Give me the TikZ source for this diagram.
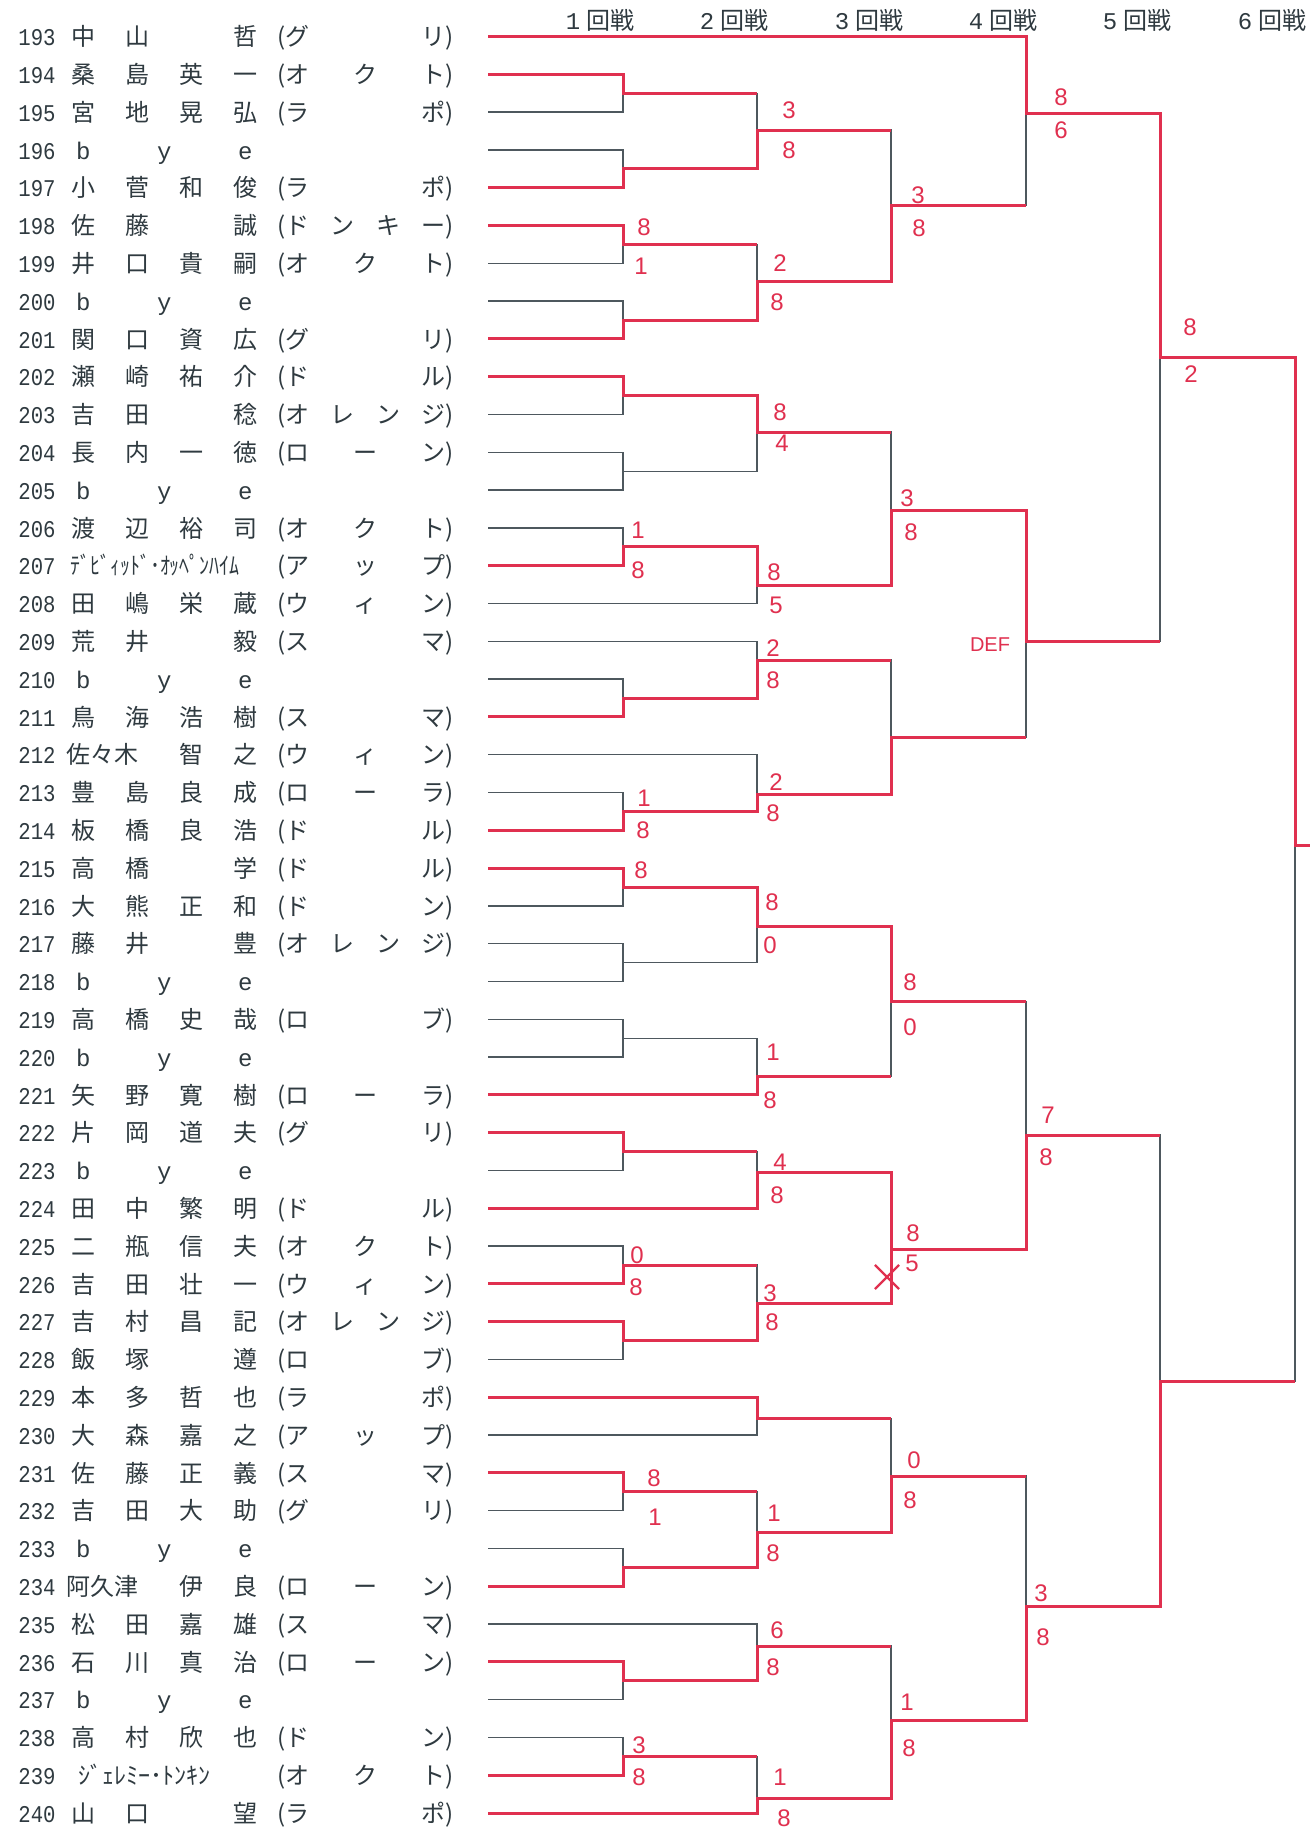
\documentclass[tikz,border=0pt]{standalone}
\usepackage{fontspec}
\usepackage{graphicx}
\usepackage{xcolor}
\usetikzlibrary{shapes.misc}
\newfontfamily\jpfont{Noto Sans CJK JP}
\newfontfamily\numfont{Liberation Mono}
\newfontfamily\scfont{Liberation Sans}
\definecolor{TxtD}{HTML}{2F3A40}
\definecolor{LnG} {HTML}{4E585E}
\definecolor{WinR}{HTML}{E0304F}
% one row of the draw: number, four name slots, club in brackets
\newcommand{\nbox}[1]{\makebox[19pt][l]{\scalebox{0.86}[1]{\numfont #1}}}
\newcommand{\team}[1]{\makebox[6.5pt][r]{(}\hbox to 80pt{#1}\makebox[6pt][l]{)}}
\newcommand{\plyr}[6]{\nbox{#1}\makebox[27pt]{#2}\makebox[27pt]{#3}\makebox[27pt]{#4}\makebox[27pt]{#5}\team{#6}}
\newcommand{\plyrw}[5]{\nbox{#1}\makebox[54pt][l]{\hspace{5pt}#2}\makebox[27pt]{#3}\makebox[27pt]{#4}\team{#5}}
\newcommand{\plyrk}[3]{\nbox{#1}\makebox[108pt][l]{#2}\team{#3}}
\newcommand{\plyrbye}[1]{\nbox{#1}\makebox[27pt]{\numfont b}\makebox[54pt]{\numfont y}\makebox[27pt]{\numfont e}}
\tikzset{
  ENT/.style={
    anchor=west, inner sep=0pt, text=TxtD,
    font=\jpfont\fontsize{12}{14}\selectfont,
    text height=11pt, text depth=1.8pt
  },
  HDR/.style={
    inner sep=0pt, text=TxtD,
    font=\jpfont\fontsize{12}{14}\selectfont,
    text height=11pt, text depth=1.8pt
  },
  LOS/.style={draw=LnG, line width=0.7pt},
  WIN/.style={draw=WinR, line width=1.5pt},
  SCR/.style={
    inner sep=0pt, text=WinR,
    font=\scfont\fontsize{12}{12}\selectfont
  },
  XMK/.style={
    cross out, draw=WinR, line width=1.1pt,
    minimum size=11pt, inner sep=0pt
  },
}

\begin{document}
\begin{tikzpicture}[x=0.5pt,y=-0.5pt]
\path[use as bounding box, fill=white] (0,0) rectangle (1310,1832);

%================ ROUND HEADERS =================
\node[HDR] (h1) at ( 600,20) {{\numfont 1}\hspace{3pt}回戦};
\node[HDR] (h2) at ( 734,20) {{\numfont 2}\hspace{3pt}回戦};
\node[HDR] (h3) at ( 869,20) {{\numfont 3}\hspace{3pt}回戦};
\node[HDR] (h4) at (1003,20) {{\numfont 4}\hspace{3pt}回戦};
\node[HDR] (h5) at (1137,20) {{\numfont 5}\hspace{3pt}回戦};
\node[HDR] (h6) at (1272,20) {{\numfont 6}\hspace{3pt}回戦};

%================ LINE STARTS =================
\foreach \n in {193,...,240}
  \coordinate (s\n) at (488,{36.5+37.8*(\n-193)});
\coordinate (fout) at (1310,845);

%================ PLAYERS =================
\node[ENT] (p193) at (18,0 |- s193) {\plyr{193}{中}{山}{}{哲}{グ\hfill リ}};
\node[ENT] (p194) at (18,0 |- s194) {\plyr{194}{桑}{島}{英}{一}{オ\hfill ク\hfill ト}};
\node[ENT] (p195) at (18,0 |- s195) {\plyr{195}{宮}{地}{晃}{弘}{ラ\hfill ポ}};
\node[ENT] (p196) at (18,0 |- s196) {\plyrbye{196}};
\node[ENT] (p197) at (18,0 |- s197) {\plyr{197}{小}{菅}{和}{俊}{ラ\hfill ポ}};
\node[ENT] (p198) at (18,0 |- s198) {\plyr{198}{佐}{藤}{}{誠}{ド\hfill ン\hfill キ\hfill ー}};
\node[ENT] (p199) at (18,0 |- s199) {\plyr{199}{井}{口}{貴}{嗣}{オ\hfill ク\hfill ト}};
\node[ENT] (p200) at (18,0 |- s200) {\plyrbye{200}};
\node[ENT] (p201) at (18,0 |- s201) {\plyr{201}{関}{口}{資}{広}{グ\hfill リ}};
\node[ENT] (p202) at (18,0 |- s202) {\plyr{202}{瀬}{崎}{祐}{介}{ド\hfill ル}};
\node[ENT] (p203) at (18,0 |- s203) {\plyr{203}{吉}{田}{}{稔}{オ\hfill レ\hfill ン\hfill ジ}};
\node[ENT] (p204) at (18,0 |- s204) {\plyr{204}{長}{内}{一}{徳}{ロ\hfill ー\hfill ン}};
\node[ENT] (p205) at (18,0 |- s205) {\plyrbye{205}};
\node[ENT] (p206) at (18,0 |- s206) {\plyr{206}{渡}{辺}{裕}{司}{オ\hfill ク\hfill ト}};
\node[ENT] (p207) at (18,0 |- s207) {\plyrk{207}{\hspace{7pt}\scalebox{0.83}[1]{ﾃﾞﾋﾞｨｯﾄﾞ･ｵｯﾍﾟﾝﾊｲﾑ}}{ア\hfill ッ\hfill プ}};
\node[ENT] (p208) at (18,0 |- s208) {\plyr{208}{田}{嶋}{栄}{蔵}{ウ\hfill ィ\hfill ン}};
\node[ENT] (p209) at (18,0 |- s209) {\plyr{209}{荒}{井}{}{毅}{ス\hfill マ}};
\node[ENT] (p210) at (18,0 |- s210) {\plyrbye{210}};
\node[ENT] (p211) at (18,0 |- s211) {\plyr{211}{鳥}{海}{浩}{樹}{ス\hfill マ}};
\node[ENT] (p212) at (18,0 |- s212) {\plyrw{212}{佐々木}{智}{之}{ウ\hfill ィ\hfill ン}};
\node[ENT] (p213) at (18,0 |- s213) {\plyr{213}{豊}{島}{良}{成}{ロ\hfill ー\hfill ラ}};
\node[ENT] (p214) at (18,0 |- s214) {\plyr{214}{板}{橋}{良}{浩}{ド\hfill ル}};
\node[ENT] (p215) at (18,0 |- s215) {\plyr{215}{高}{橋}{}{学}{ド\hfill ル}};
\node[ENT] (p216) at (18,0 |- s216) {\plyr{216}{大}{熊}{正}{和}{ド\hfill ン}};
\node[ENT] (p217) at (18,0 |- s217) {\plyr{217}{藤}{井}{}{豊}{オ\hfill レ\hfill ン\hfill ジ}};
\node[ENT] (p218) at (18,0 |- s218) {\plyrbye{218}};
\node[ENT] (p219) at (18,0 |- s219) {\plyr{219}{高}{橋}{史}{哉}{ロ\hfill ブ}};
\node[ENT] (p220) at (18,0 |- s220) {\plyrbye{220}};
\node[ENT] (p221) at (18,0 |- s221) {\plyr{221}{矢}{野}{寛}{樹}{ロ\hfill ー\hfill ラ}};
\node[ENT] (p222) at (18,0 |- s222) {\plyr{222}{片}{岡}{道}{夫}{グ\hfill リ}};
\node[ENT] (p223) at (18,0 |- s223) {\plyrbye{223}};
\node[ENT] (p224) at (18,0 |- s224) {\plyr{224}{田}{中}{繁}{明}{ド\hfill ル}};
\node[ENT] (p225) at (18,0 |- s225) {\plyr{225}{二}{瓶}{信}{夫}{オ\hfill ク\hfill ト}};
\node[ENT] (p226) at (18,0 |- s226) {\plyr{226}{吉}{田}{壮}{一}{ウ\hfill ィ\hfill ン}};
\node[ENT] (p227) at (18,0 |- s227) {\plyr{227}{吉}{村}{昌}{記}{オ\hfill レ\hfill ン\hfill ジ}};
\node[ENT] (p228) at (18,0 |- s228) {\plyr{228}{飯}{塚}{}{遵}{ロ\hfill ブ}};
\node[ENT] (p229) at (18,0 |- s229) {\plyr{229}{本}{多}{哲}{也}{ラ\hfill ポ}};
\node[ENT] (p230) at (18,0 |- s230) {\plyr{230}{大}{森}{嘉}{之}{ア\hfill ッ\hfill プ}};
\node[ENT] (p231) at (18,0 |- s231) {\plyr{231}{佐}{藤}{正}{義}{ス\hfill マ}};
\node[ENT] (p232) at (18,0 |- s232) {\plyr{232}{吉}{田}{大}{助}{グ\hfill リ}};
\node[ENT] (p233) at (18,0 |- s233) {\plyrbye{233}};
\node[ENT] (p234) at (18,0 |- s234) {\plyrw{234}{阿久津}{伊}{良}{ロ\hfill ー\hfill ン}};
\node[ENT] (p235) at (18,0 |- s235) {\plyr{235}{松}{田}{嘉}{雄}{ス\hfill マ}};
\node[ENT] (p236) at (18,0 |- s236) {\plyr{236}{石}{川}{真}{治}{ロ\hfill ー\hfill ン}};
\node[ENT] (p237) at (18,0 |- s237) {\plyrbye{237}};
\node[ENT] (p238) at (18,0 |- s238) {\plyr{238}{高}{村}{欣}{也}{ド\hfill ン}};
\node[ENT] (p239) at (18,0 |- s239) {\plyrk{239}{\hspace{11pt}ｼﾞｪﾚﾐｰ･ﾄﾝｷﾝ}{オ\hfill ク\hfill ト}};
\node[ENT] (p240) at (18,0 |- s240) {\plyr{240}{山}{口}{}{望}{ラ\hfill ポ}};

%================ MATCH POINTS =================
\coordinate (A1)  at (623,  93.2);
\coordinate (A2)  at (623, 168.8);
\coordinate (A3)  at (623, 244.4);
\coordinate (A4)  at (623, 320.0);
\coordinate (A5)  at (623, 395.6);
\coordinate (A6)  at (623, 471.2);
\coordinate (A7)  at (623, 546.8);
\coordinate (A8)  at (623, 698.0);
\coordinate (A9)  at (623, 811.4);
\coordinate (A10) at (623, 887.0);
\coordinate (A11) at (623, 962.6);
\coordinate (A12) at (623,1038.2);
\coordinate (A13) at (623,1151.6);
\coordinate (A14) at (623,1265.0);
\coordinate (A15) at (623,1340.6);
\coordinate (A16) at (623,1491.8);
\coordinate (A17) at (623,1567.4);
\coordinate (A18) at (623,1680.8);
\coordinate (A19) at (623,1756.4);

\coordinate (B1)  at (757, 130.0);
\coordinate (B2)  at (757, 281.0);
\coordinate (B3)  at (757, 432.0);
\coordinate (B4)  at (757, 585.7);
\coordinate (B5)  at (757, 660.0);
\coordinate (B6)  at (757, 794.0);
\coordinate (B7)  at (757, 926.7);
\coordinate (B8)  at (757,1076.7);
\coordinate (B9)  at (757,1172.7);
\coordinate (B10) at (757,1303.3);
\coordinate (B11) at (757,1418.3);
\coordinate (B12) at (757,1532.7);
\coordinate (B13) at (757,1646.0);
\coordinate (B14) at (757,1798.3);

\coordinate (C1) at (891, 205.0);
\coordinate (C2) at (891, 510.0);
\coordinate (C3) at (891, 737.7);
\coordinate (C4) at (891,1001.7);
\coordinate (C5) at (891,1249.3);
\coordinate (C6) at (891,1476.0);
\coordinate (C7) at (891,1720.7);

\coordinate (D1) at (1026, 113.0);
\coordinate (D2) at (1026, 641.7);
\coordinate (D3) at (1026,1135.0);
\coordinate (D4) at (1026,1606.7);

\coordinate (E1) at (1160, 357.0);
\coordinate (E2) at (1160,1381.7);

\coordinate (F1) at (1295, 845.0);

%================ DRAW (GREY) =================
\draw[LOS] (s194) -| (A1)  |- (s195);
\draw[LOS] (s196) -| (A2)  |- (s197);
\draw[LOS] (s198) -| (A3)  |- (s199);
\draw[LOS] (s200) -| (A4)  |- (s201);
\draw[LOS] (s202) -| (A5)  |- (s203);
\draw[LOS] (s204) -| (A6)  |- (s205);
\draw[LOS] (s206) -| (A7)  |- (s207);
\draw[LOS] (s210) -| (A8)  |- (s211);
\draw[LOS] (s213) -| (A9)  |- (s214);
\draw[LOS] (s215) -| (A10) |- (s216);
\draw[LOS] (s217) -| (A11) |- (s218);
\draw[LOS] (s219) -| (A12) |- (s220);
\draw[LOS] (s222) -| (A13) |- (s223);
\draw[LOS] (s225) -| (A14) |- (s226);
\draw[LOS] (s227) -| (A15) |- (s228);
\draw[LOS] (s231) -| (A16) |- (s232);
\draw[LOS] (s233) -| (A17) |- (s234);
\draw[LOS] (s236) -| (A18) |- (s237);
\draw[LOS] (s238) -| (A19) |- (s239);

\draw[LOS] (A1)   -| (B1)  |- (A2);
\draw[LOS] (A3)   -| (B2)  |- (A4);
\draw[LOS] (A5)   -| (B3)  |- (A6);
\draw[LOS] (A7)   -| (B4)  |- (s208);
\draw[LOS] (s209) -| (B5)  |- (A8);
\draw[LOS] (s212) -| (B6)  |- (A9);
\draw[LOS] (A10)  -| (B7)  |- (A11);
\draw[LOS] (A12)  -| (B8)  |- (s221);
\draw[LOS] (A13)  -| (B9)  |- (s224);
\draw[LOS] (A14)  -| (B10) |- (A15);
\draw[LOS] (s229) -| (B11) |- (s230);
\draw[LOS] (A16)  -| (B12) |- (A17);
\draw[LOS] (s235) -| (B13) |- (A18);
\draw[LOS] (A19)  -| (B14) |- (s240);

\draw[LOS] (B1)  -| (C1) |- (B2);
\draw[LOS] (B3)  -| (C2) |- (B4);
\draw[LOS] (B5)  -| (C3) |- (B6);
\draw[LOS] (B7)  -| (C4) |- (B8);
\draw[LOS] (B9)  -| (C5) |- (B10);
\draw[LOS] (B11) -| (C6) |- (B12);
\draw[LOS] (B13) -| (C7) |- (B14);

\draw[LOS] (s193) -| (D1) |- (C1);
\draw[LOS] (C2)   -| (D2) |- (C3);
\draw[LOS] (C4)   -| (D3) |- (C5);
\draw[LOS] (C6)   -| (D4) |- (C7);

\draw[LOS] (D1) -| (E1) |- (D2);
\draw[LOS] (D3) -| (E2) |- (D4);
\draw[LOS] (E1) -| (F1) |- (E2);

%================ WINNERS (RED) =================
\draw[WIN] (s193) -| (D1) -| (E1) -| (F1) -- (fout);
\draw[WIN] (s194) -| (A1) -- (A1 -| B1);
\draw[WIN] (s197) -| (A2) -| (B1) -- (B1 -| C1);
\draw[WIN] (s198) -| (A3) -- (A3 -| B2);
\draw[WIN] (s201) -| (A4) -| (B2) -| (C1) -- (C1 -| D1);
\draw[WIN] (s202) -| (A5) -| (B3) -- (B3 -| C2);
\draw[WIN] (s207) -| (A7) -| (B4) -| (C2) -| (D2) -- (D2 -| E1);
\draw[WIN] (s211) -| (A8) -| (B5) -- (B5 -| C3);
\draw[WIN] (s214) -| (A9) -| (B6) -| (C3) -- (C3 -| D2);
\draw[WIN] (s215) -| (A10) -| (B7) -| (C4) -- (C4 -| D3);
\draw[WIN] (s221) -| (B8) -- (B8 -| C4);
\draw[WIN] (s222) -| (A13) -- (A13 -| B9);
\draw[WIN] (s224) -| (B9) -| (C5) -| (D3) -- (D3 -| E2);
\draw[WIN] (s226) -| (A14) -- (A14 -| B10);
\draw[WIN] (s227) -| (A15) -| (B10) -| (C5);
\draw[WIN] (s229) -| (B11) -- (B11 -| C6);
\draw[WIN] (s231) -| (A16) -- (A16 -| B12);
\draw[WIN] (s234) -| (A17) -| (B12) -| (C6) -- (C6 -| D4);
\draw[WIN] (s236) -| (A18) -| (B13) -- (B13 -| C7);
\draw[WIN] (s239) -| (A19) -- (A19 -| B14);
\draw[WIN] (s240) -| (B14) -| (C7) -| (D4) -| (E2) -- (E2 -| F1);

\node[XMK] (xmk) at (887,1277) {};

%================ SCORES =================
\node[SCR] (kA3a)  at (644, 227) {8};
\node[SCR] (kA3b)  at (641, 266) {1};
\node[SCR] (kA7a)  at (638, 530) {1};
\node[SCR] (kA7b)  at (638, 570) {8};
\node[SCR] (kA9a)  at (644, 798) {1};
\node[SCR] (kA9b)  at (643, 830) {8};
\node[SCR] (kA10a) at (641, 870) {8};
\node[SCR] (kA14a) at (637,1255) {0};
\node[SCR] (kA14b) at (636,1287) {8};
\node[SCR] (kA16a) at (654,1478) {8};
\node[SCR] (kA16b) at (655,1517) {1};
\node[SCR] (kA19a) at (639,1745) {3};
\node[SCR] (kA19b) at (639,1777) {8};

\node[SCR] (kB1a)  at (789, 110) {3};
\node[SCR] (kB1b)  at (789, 150) {8};
\node[SCR] (kB2a)  at (780, 263) {2};
\node[SCR] (kB2b)  at (777, 302) {8};
\node[SCR] (kB3a)  at (780, 412) {8};
\node[SCR] (kB3b)  at (782, 443) {4};
\node[SCR] (kB4a)  at (774, 572) {8};
\node[SCR] (kB4b)  at (776, 605) {5};
\node[SCR] (kB5a)  at (773, 648) {2};
\node[SCR] (kB5b)  at (773, 680) {8};
\node[SCR] (kB6a)  at (776, 782) {2};
\node[SCR] (kB6b)  at (773, 813) {8};
\node[SCR] (kB7a)  at (772, 902) {8};
\node[SCR] (kB7b)  at (770, 945) {0};
\node[SCR] (kB8a)  at (773,1052) {1};
\node[SCR] (kB8b)  at (770,1100) {8};
\node[SCR] (kB9a)  at (780,1162) {4};
\node[SCR] (kB9b)  at (777,1195) {8};
\node[SCR] (kB10a) at (770,1293) {3};
\node[SCR] (kB10b) at (772,1322) {8};
\node[SCR] (kB12a) at (774,1513) {1};
\node[SCR] (kB12b) at (773,1553) {8};
\node[SCR] (kB13a) at (777,1630) {6};
\node[SCR] (kB13b) at (773,1667) {8};
\node[SCR] (kB14a) at (780,1777) {1};
\node[SCR] (kB14b) at (784,1818) {8};

\node[SCR] (kC1a) at (918, 195) {3};
\node[SCR] (kC1b) at (919, 228) {8};
\node[SCR] (kC2a) at (907, 498) {3};
\node[SCR] (kC2b) at (911, 532) {8};
\node[SCR] (kC4a) at (910, 982) {8};
\node[SCR] (kC4b) at (910,1027) {0};
\node[SCR] (kC5a) at (913,1233) {8};
\node[SCR] (kC5b) at (912,1263) {5};
\node[SCR] (kC6a) at (914,1460) {0};
\node[SCR] (kC6b) at (910,1500) {8};
\node[SCR] (kC7a) at (907,1702) {1};
\node[SCR] (kC7b) at (909,1748) {8};

\node[SCR] (kD1a) at (1061,  97) {8};
\node[SCR] (kD1b) at (1061, 130) {6};
\node[SCR,font=\scfont\fontsize{10}{10}\selectfont] (kD2)  at (990, 645) {DEF};
\node[SCR] (kD3a) at (1048,1115) {7};
\node[SCR] (kD3b) at (1046,1157) {8};
\node[SCR] (kD4a) at (1041,1593) {3};
\node[SCR] (kD4b) at (1043,1637) {8};

\node[SCR] (kE1a) at (1190, 327) {8};
\node[SCR] (kE1b) at (1191, 374) {2};

\end{tikzpicture}
\end{document}
